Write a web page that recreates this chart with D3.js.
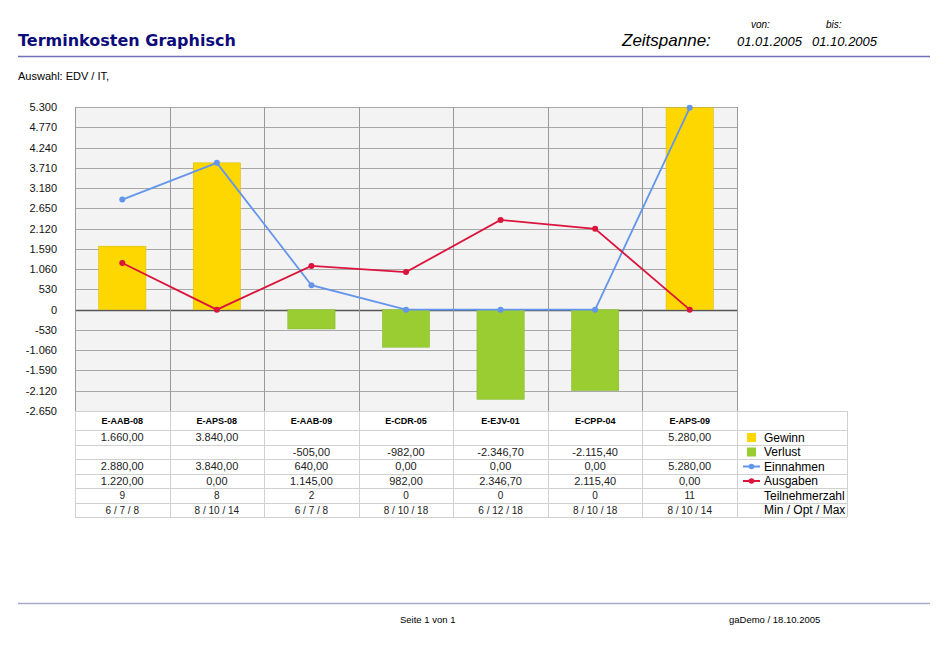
<!DOCTYPE html>
<html>
<head>
<meta charset="utf-8">
<script src="https://cdn.jsdelivr.net/npm/d3@7"></script>
<style>
  body { margin: 0; background: #fff; }
  text { font-family: "Liberation Sans", Arial, sans-serif; }
</style>
</head>
<body>
<div id="chart"></div>
<script>
const categories = ["E-AAB-08", "E-APS-08", "E-AAB-09", "E-CDR-05", "E-EJV-01", "E-CPP-04", "E-APS-09"];
const gewinn     = [1660, 3840, null, null, null, null, 5280];
const verlust    = [null, null, -505, -982, -2346.7, -2115.4, null];
const einnahmen  = [2880, 3840, 640, 0, 0, 0, 5280];
const ausgaben   = [1220, 0, 1145, 982, 2346.7, 2115.4, 0];
const teilnehmer = [9, 8, 2, 0, 0, 0, 11];
const minOptMax  = ["6 / 7 / 8", "8 / 10 / 14", "6 / 7 / 8", "8 / 10 / 18", "6 / 12 / 18", "8 / 10 / 18", "8 / 10 / 14"];
const yTicks     = [5300, 4770, 4240, 3710, 3180, 2650, 2120, 1590, 1060, 530, 0, -530, -1060, -1590, -2120, -2650];

const de = d3.formatLocale({decimal: ",", thousands: ".", grouping: [3], currency: ["", " €"], minus: "-"});
const fmtTick = de.format(",.0f");
const fmtVal = de.format(",.2f");

const width = 950, height = 645;
const plot = {left: 75, right: 737, top: 107, bottom: 411};
const rowH = 14.5;
const tableRight = 847;

const svg = d3.select("#chart").append("svg")
    .attr("width", width)
    .attr("height", height);

// ---- header
svg.append("text")
    .attr("x", 18).attr("y", 46)
    .style("font-family", "'DejaVu Sans', Verdana, sans-serif")
    .style("font-weight", "bold")
    .style("font-size", "16px")
    .style("fill", "#0b0b7a")
    .text("Terminkosten Graphisch");

svg.append("text")
    .attr("x", 622).attr("y", 46)
    .style("font-style", "italic")
    .style("font-size", "17px")
    .text("Zeitspanne:");

svg.append("text").attr("x", 751).attr("y", 28)
    .style("font-style", "italic").style("font-size", "10px").text("von:");
svg.append("text").attr("x", 826).attr("y", 28)
    .style("font-style", "italic").style("font-size", "10px").text("bis:");
svg.append("text").attr("x", 737).attr("y", 46)
    .style("font-style", "italic").style("font-size", "13px").text("01.01.2005");
svg.append("text").attr("x", 812).attr("y", 46)
    .style("font-style", "italic").style("font-size", "13px").text("01.10.2005");

svg.append("line")
    .attr("x1", 18).attr("x2", 930).attr("y1", 56.5).attr("y2", 56.5)
    .style("stroke", "#7070b8").style("stroke-width", 1.5);

svg.append("text")
    .attr("x", 18).attr("y", 80)
    .style("font-size", "11px")
    .text("Auswahl: EDV / IT,");

// ---- scales
const x = d3.scaleBand().domain(categories).range([plot.left, plot.right]);
const xBar = d3.scaleBand().domain(categories).range([plot.left, plot.right]).paddingInner(0.5).paddingOuter(0.25);
const y = d3.scaleLinear().domain([d3.min(yTicks), d3.max(yTicks)]).range([plot.bottom, plot.top]);

// plot background
svg.append("rect")
    .attr("x", plot.left).attr("y", plot.top)
    .attr("width", plot.right - plot.left).attr("height", plot.bottom - plot.top)
    .style("fill", "#f2f3f2");

// horizontal grid
svg.append("g")
    .selectAll("line")
    .data(yTicks)
    .enter().append("line")
    .attr("x1", plot.left).attr("x2", plot.right)
    .attr("y1", d => Math.round(y(d)) + 0.5).attr("y2", d => Math.round(y(d)) + 0.5)
    .style("stroke", d => d === 0 ? "#555" : "#a8a8a8")
    .style("stroke-width", d => d === 0 ? 1.3 : 1);

// vertical grid
const xEdges = categories.map(c => x(c)).concat([plot.right]);
svg.append("g")
    .selectAll("line")
    .data(xEdges)
    .enter().append("line")
    .attr("x1", d => Math.round(d) + 0.5).attr("x2", d => Math.round(d) + 0.5)
    .attr("y1", plot.top).attr("y2", plot.bottom)
    .style("stroke", "#999");

// y axis labels
const yAxis = d3.axisLeft(y).tickValues(yTicks).tickFormat(fmtTick).tickSize(0).tickPadding(0);
const yg = svg.append("g")
    .attr("transform", `translate(${plot.left - 18},0)`)
    .call(yAxis);
yg.select(".domain").remove();
yg.selectAll("text")
    .style("font-family", "'Liberation Sans', Arial, sans-serif")
    .style("font-size", "11px")
    .style("fill", "#111");

// bars
svg.append("g").selectAll("rect.gewinn")
    .data(categories.map((c, i) => ({c, v: gewinn[i]})).filter(d => d.v != null))
    .enter().append("rect")
    .attr("x", d => xBar(d.c)).attr("width", xBar.bandwidth())
    .attr("y", d => y(d.v)).attr("height", d => y(0) - y(d.v))
    .style("fill", "#ffd700").style("stroke", "#d8b800").style("stroke-width", 0.5);

svg.append("g").selectAll("rect.verlust")
    .data(categories.map((c, i) => ({c, v: verlust[i]})).filter(d => d.v != null))
    .enter().append("rect")
    .attr("x", d => xBar(d.c)).attr("width", xBar.bandwidth())
    .attr("y", y(0)).attr("height", d => y(d.v) - y(0))
    .style("fill", "#9acd32").style("stroke", "#86b82a").style("stroke-width", 0.5);

// lines
const cx = c => x(c) + x.bandwidth() / 2;
const lineGen = d3.line().x(d => cx(d.c)).y(d => y(d.v));
const series = [
    {name: "Einnahmen", values: einnahmen, color: "#6495ed"},
    {name: "Ausgaben", values: ausgaben, color: "#dc143c"}
];
series.forEach(s => {
    const pts = categories.map((c, i) => ({c, v: s.values[i]}));
    svg.append("path")
        .datum(pts)
        .attr("d", lineGen)
        .style("fill", "none")
        .style("stroke", s.color)
        .style("stroke-width", 1.8);
    svg.append("g").selectAll("circle")
        .data(pts)
        .enter().append("circle")
        .attr("cx", d => cx(d.c)).attr("cy", d => y(d.v))
        .attr("r", 3)
        .style("fill", s.color);
});

// ---- data table
const rows = [
    {label: "Gewinn", vals: gewinn.map(v => v == null ? "" : fmtVal(v)), swatch: "#ffd700"},
    {label: "Verlust", vals: verlust.map(v => v == null ? "" : fmtVal(v)), swatch: "#9acd32"},
    {label: "Einnahmen", vals: einnahmen.map(fmtVal), line: "#6495ed"},
    {label: "Ausgaben", vals: ausgaben.map(fmtVal), line: "#dc143c"},
    {label: "Teilnehmerzahl", vals: teilnehmer.map(String), small: true},
    {label: "Min / Opt / Max", vals: minOptMax, small: true}
];
const headTop = plot.bottom, headBottom = plot.bottom + 19;
const tableBottom = headBottom + rows.length * rowH;

const tbl = svg.append("g");
// horizontal borders
const hLines = [headTop, headBottom].concat(rows.map((r, i) => headBottom + (i + 1) * rowH));
tbl.selectAll("line.h")
    .data(hLines)
    .enter().append("line")
    .attr("x1", plot.left).attr("x2", tableRight)
    .attr("y1", d => Math.round(d) + 0.5).attr("y2", d => Math.round(d) + 0.5)
    .style("stroke", "#d0d0d0");
// vertical borders
tbl.selectAll("line.v")
    .data(xEdges.concat([tableRight]))
    .enter().append("line")
    .attr("x1", d => Math.round(d) + 0.5).attr("x2", d => Math.round(d) + 0.5)
    .attr("y1", headTop).attr("y2", tableBottom)
    .style("stroke", "#d0d0d0");

// column headers
tbl.selectAll("text.head")
    .data(categories)
    .enter().append("text")
    .attr("x", d => cx(d)).attr("y", headTop + 13)
    .attr("text-anchor", "middle")
    .style("font-size", "9px").style("font-weight", "bold")
    .text(d => d);

rows.forEach((r, ri) => {
    const ry = headBottom + ri * rowH;
    tbl.append("g").selectAll("text")
        .data(r.vals)
        .enter().append("text")
        .attr("x", (d, i) => cx(categories[i])).attr("y", ry + 11)
        .attr("text-anchor", "middle")
        .style("font-size", r.small ? "10px" : "11px")
        .style("fill", "#222")
        .text(d => d);
    // legend cell
    if (r.swatch) {
        tbl.append("rect")
            .attr("x", 747).attr("y", ry + 3)
            .attr("width", 9).attr("height", 9)
            .style("fill", r.swatch);
    }
    if (r.line) {
        tbl.append("line")
            .attr("x1", 743).attr("x2", 760)
            .attr("y1", ry + 7.5).attr("y2", ry + 7.5)
            .style("stroke", r.line).style("stroke-width", 2);
        tbl.append("circle")
            .attr("cx", 751.5).attr("cy", ry + 7.5).attr("r", 2.8)
            .style("fill", r.line);
    }
    tbl.append("text")
        .attr("x", 764).attr("y", ry + 11.5)
        .style("font-size", "12px")
        .text(r.label);
});

// ---- footer
svg.append("line")
    .attr("x1", 18).attr("x2", 930).attr("y1", 603.5).attr("y2", 603.5)
    .style("stroke", "#a8a8cc").style("stroke-width", 1.5);
svg.append("text").attr("x", 400).attr("y", 623)
    .style("font-size", "9.5px").text("Seite 1 von 1");
svg.append("text").attr("x", 729).attr("y", 623)
    .style("font-size", "9.5px").text("gaDemo / 18.10.2005");
</script>
</body>
</html>
